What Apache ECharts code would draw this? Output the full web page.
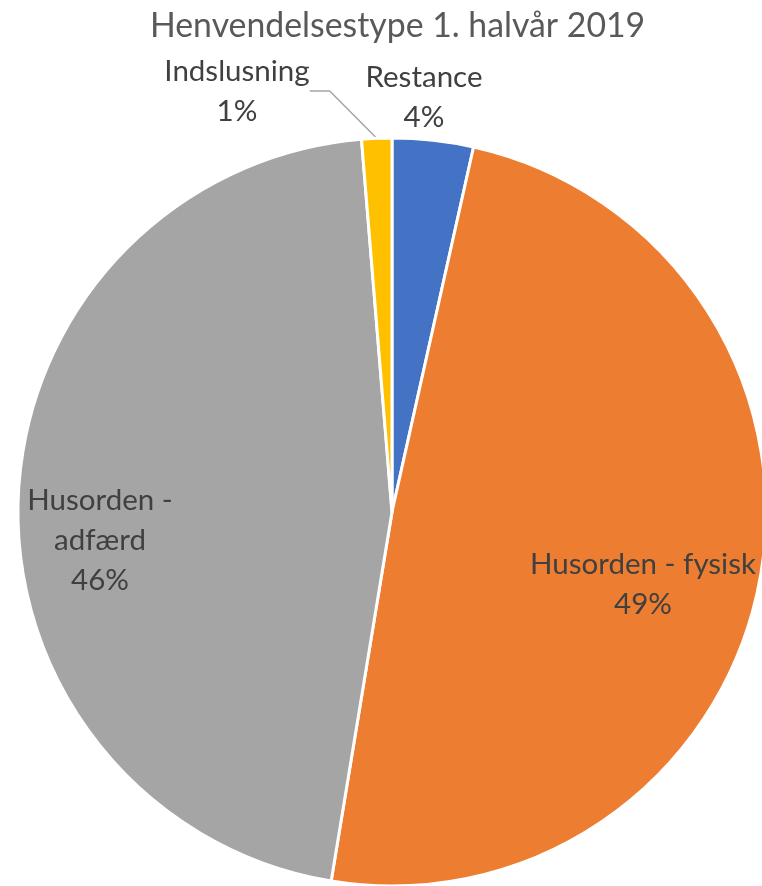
<!DOCTYPE html>
<html>
<head>
<meta charset="utf-8">
<script src="https://cdn.jsdelivr.net/npm/echarts@6/dist/echarts.min.js"></script>
<style>
html,body{margin:0;padding:0;background:#fff;}
#chart{width:762px;height:886px;}
</style>
</head>
<body>
<div id="chart"></div>
<script>
// data
var titleText = 'Henvendelsestype 1. halvår 2019';
var categories = ['Restance', 'Husorden - fysisk', 'Husorden - adfærd', 'Indslusning'];
var labelNames = ['Restance', 'Husorden - fysisk', 'Husorden -\nadfærd', 'Indslusning'];
var shares = [3.5, 49.1, 46.1, 1.3];
var colors = ['#4472C4', '#ED7D31', '#A5A5A5', '#FFC000'];

// label placement (excel style)
var labelPos = [[424, 97], [643, 584], [100, 540], [237, 91]];
var labelInside = [false, true, true, false];

var myChart = echarts.init(document.getElementById('chart'));

var pieData = [];
for (var i = 0; i < categories.length; i++) {
    pieData.push({
        name: categories[i],
        value: shares[i],
        itemStyle: {color: colors[i]},
        label: {position: labelInside[i] ? 'inside' : 'outside'},
        labelLine: {show: i == 3}
    });
}

myChart.setOption({
    animation: false,
    title: {
        text: titleText,
        left: 145,
        top: 4,
        textStyle: {
            fontFamily: 'Lato',
            fontWeight: 'normal',
            fontSize: 33.8,
            color: '#595959'
        }
    },
    series: [{
        type: 'pie',
        center: [392, 512],
        radius: 374,
        startAngle: 90,
        clockwise: true,
        avoidLabelOverlap: false,
        data: pieData,
        itemStyle: {
            borderColor: '#fff',
            borderWidth: 3
        },
        label: {
            show: true,
            fontFamily: 'Lato',
            fontSize: 29.5,
            lineHeight: 40,
            color: '#404040',
            align: 'center',
            formatter: function (p) {
                return labelNames[p.dataIndex] + '\n' + Math.round(p.value) + '%';
            }
        },
        labelLine: {
            lineStyle: {color: '#A6A6A6', width: 1.5},
            length: 20,
            length2: 20
        },
        labelLayout: function (params) {
            var p = labelPos[params.dataIndex];
            return {x: p[0], y: p[1], align: 'center', verticalAlign: 'middle'};
        }
    }]
});
</script>
</body>
</html>
